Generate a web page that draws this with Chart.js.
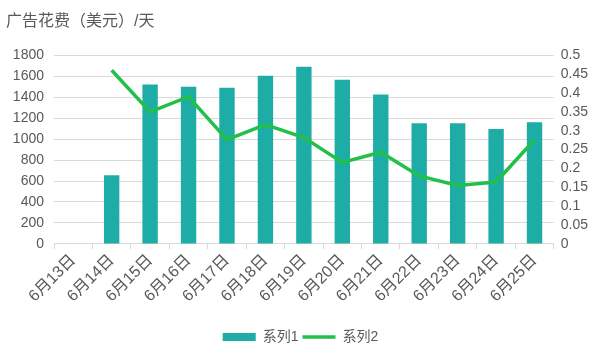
<!DOCTYPE html>
<html>
<head>
<meta charset="utf-8">
<script src="https://cdn.jsdelivr.net/npm/chart.js@4"></script>
<style>
  html, body { margin: 0; padding: 0; background: #fff; }
  #wrap { width: 600px; height: 360px; }
</style>
</head>
<body>
<div id="wrap"><canvas id="myChart" width="600" height="360"></canvas></div>
<script>
const days = ["6月13日", "6月14日", "6月15日", "6月16日", "6月17日", "6月18日", "6月19日",
  "6月20日", "6月21日", "6月22日", "6月23日", "6月24日", "6月25日"];
const spend = [null, 655, 1520, 1500, 1490, 1605, 1690, 1565, 1425, 1150, 1150, 1095, 1160];
const ratio = [null, 0.46, 0.35, 0.39, 0.276, 0.316, 0.282, 0.216, 0.243, 0.18, 0.155, 0.164, 0.276];
const leftTicks = [0, 200, 400, 600, 800, 1000, 1200, 1400, 1600, 1800];
const rightTicks = [0, 0.05, 0.1, 0.15, 0.2, 0.25, 0.3, 0.35, 0.4, 0.45, 0.5];

const font = "'Liberation Sans', 'Noto Sans CJK SC', sans-serif";
const grey = "#595959";
Chart.defaults.font.family = font;
Chart.defaults.color = grey;

const ctx = document.getElementById("myChart").getContext("2d");

new Chart(ctx, {
  type: "bar",
  data: {
    labels: days,
    datasets: [
      {
        type: "line",
        label: "系列2",
        data: ratio,
        yAxisID: "y1",
        borderColor: "#22c04a",
        backgroundColor: "#22c04a",
        borderWidth: 3.5,
        pointRadius: 0,
        pointStyle: "line",
        tension: 0,
        order: 0
      },
      {
        label: "系列1",
        data: spend,
        yAxisID: "y",
        backgroundColor: "#1dada6",
        borderWidth: 0,
        categoryPercentage: 1,
        barPercentage: 0.4,
        pointStyle: "rect",
        order: 1
      }
    ]
  },
  options: {
    responsive: false,
    animation: false,
    layout: { padding: { left: 6, right: 5, top: 8, bottom: 6 } },
    plugins: {
      title: {
        display: true,
        text: "广告花费（美元）/天",
        align: "start",
        color: grey,
        font: { size: 16, weight: "normal" },
        padding: { top: 4, bottom: 24 }
      },
      legend: {
        position: "bottom",
        reverse: true,
        labels: {
          usePointStyle: true,
          pointStyleWidth: 33,
          boxHeight: 8,
          padding: 4,
          font: { size: 14 },
          color: grey
        }
      },
      tooltip: { enabled: false }
    },
    scales: {
      x: {
        offset: true,
        grid: { offset: true, drawOnChartArea: false, color: "#d9d9d9", tickLength: 5 },
        border: { color: "#d9d9d9" },
        ticks: { minRotation: 45, maxRotation: 45, font: { size: 16 }, color: grey, padding: 2 },
        afterFit: s => { s.height += 18; }
      },
      y: {
        position: "left",
        min: 0,
        max: 1800,
        afterBuildTicks: s => { s.ticks = leftTicks.map(v => ({ value: v })); },
        afterFit: s => { s.width = 48; },
        grid: { color: "#d9d9d9", drawTicks: false },
        border: { display: false },
        ticks: { font: { size: 14 }, color: grey, padding: 10, autoSkip: false, callback: v => String(v) }
      },
      y1: {
        position: "right",
        min: 0,
        max: 0.5,
        afterBuildTicks: s => { s.ticks = rightTicks.map(v => ({ value: v })); },
        grid: { drawOnChartArea: false, drawTicks: false },
        border: { display: false },
        ticks: { font: { size: 14 }, color: grey, padding: 7, autoSkip: false, callback: v => String(v) }
      }
    }
  }
});
</script>
</body>
</html>
